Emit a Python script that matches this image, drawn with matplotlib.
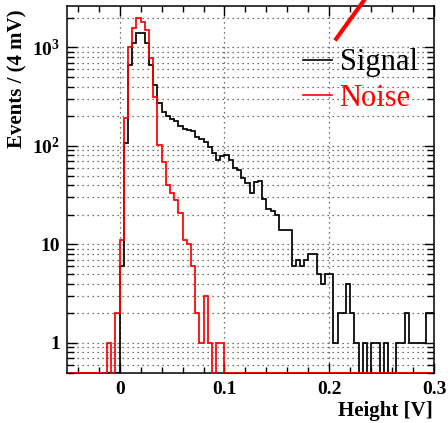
import numpy as np
import matplotlib
matplotlib.use("Agg")
import matplotlib.pyplot as plt
from matplotlib.lines import Line2D
from matplotlib.ticker import FixedLocator, FixedFormatter, LogLocator, NullFormatter

plt.rcParams["mathtext.fontset"] = "custom"
plt.rcParams["mathtext.rm"] = "Liberation Serif:bold"
plt.rcParams["mathtext.bf"] = "Liberation Serif:bold"
plt.rcParams["mathtext.it"] = "Liberation Serif:bold"

# Histogram binning: 4 mV bins
bin_width = 0.004
first_edge = -0.052
n_bins = 88

# Counts per bin, first bin starts at -0.052 V
signal_counts = [
    0, 0, 0, 0, 0, 0, 0, 0, 0, 0, 0, 0, 0,
    6, 108, 664, 1104, 1393, 1393, 1104, 664, 416, 271,
    223, 199, 187, 177, 160, 150, 146, 140, 124, 118,
    110, 98, 84, 72, 78, 81, 72, 59, 57, 47,
    42, 33, 43, 44, 29, 23, 22, 20, 14, 14,
    14, 6, 7, 6, 7, 8, 8, 5, 4, 5,
    5, 1, 2, 2, 4, 2, 1, 0, 1, 0,
    1, 1, 0, 1, 0, 0, 1, 1, 2, 1,
    1, 1, 1, 2, 2,
]
noise_counts = [
    0, 0, 0, 0, 0, 0, 0, 0, 0, 0,
    1, 0, 2,
    11, 194, 1018, 1567, 1978, 1829, 1506, 776, 316, 102,
    68, 40, 33, 28, 21, 11, 10, 6, 2, 1,
    3, 1, 0, 1, 1, 0, 0, 0, 0, 0,
    0, 0, 0, 0, 0, 0, 0, 0, 0, 0,
    0, 0, 0, 0, 0, 0, 0, 0, 0, 0,
    0, 0, 0, 0, 0, 0, 0, 0, 0, 0,
    0, 0, 0, 0, 0, 0, 0, 0, 0, 0,
    0, 0, 0, 0, 0,
]
series_labels = ["Signal", "Noise"]
series_colors = ["black", "red"]

x_range = (-0.05, 0.3)
y_range = (0.5, 2630)
x_tick_values = [0, 0.1, 0.2, 0.3]
x_tick_labels = ["0", "0.1", "0.2", "0.3"]
y_tick_values = [1, 10, 100, 1000]
y_tick_labels = ["1", "10", r"$10^{2}$", r"$10^{3}$"]

W, H = 448, 423
fig = plt.figure(figsize=(W / 100, H / 100), dpi=100)
ax = fig.add_axes([67.3 / W, 1 - 372.5 / H, (434 - 67.3) / W, (372.5 - 6) / H])

edges = first_edge + bin_width * np.arange(n_bins + 1)
for counts, color in zip([signal_counts, noise_counts], series_colors):
    vals = np.maximum(np.asarray(counts, dtype=float), y_range[0])
    ax.stairs(vals, edges, baseline=None, color=color, lw=1.25, zorder=3)

ax.set_yscale("log")
ax.set_xlim(*x_range)
ax.set_ylim(*y_range)

ax.xaxis.set_major_locator(FixedLocator(x_tick_values))
ax.xaxis.set_major_formatter(FixedFormatter(x_tick_labels))
ax.xaxis.set_minor_locator(FixedLocator(np.round(np.arange(-0.04, 0.3, 0.02), 3)))
ax.yaxis.set_major_locator(FixedLocator(y_tick_values))
ax.yaxis.set_major_formatter(FixedFormatter(y_tick_labels))
ax.yaxis.set_minor_locator(LogLocator(base=10, subs=np.arange(2, 10)))
ax.yaxis.set_minor_formatter(NullFormatter())

ax.tick_params(which="both", direction="in", top=True, right=True, width=1.0,
               labelsize=14, colors="black")
ax.tick_params(axis="x", which="major", length=7, pad=6)
ax.tick_params(axis="x", which="minor", length=4)
ax.tick_params(axis="y", which="major", length=7, pad=5)
ax.tick_params(axis="y", which="minor", length=5)
for lab in ax.get_xticklabels() + ax.get_yticklabels():
    lab.set_fontfamily("Liberation Serif")
    lab.set_fontweight("bold")

grid_style = dict(color="#444444", linestyle=(0, (1, 3)), linewidth=0.9)
ax.grid(which="major", axis="x", **grid_style)
ax.grid(which="both", axis="y", **grid_style)
ax.set_axisbelow(True)

for sp in ax.spines.values():
    sp.set_linewidth(1.1)
    sp.set_zorder(2.5)

fig.text(432.7 / W, 1 - 416 / H, "Height [V]", ha="right", va="baseline",
         fontsize=15, fontweight="bold", family="Liberation Serif")
fig.text(27 / W, 1 - 10 / H, "Events / (4 mV)", ha="right", va="top", rotation=90,
         fontsize=15, fontweight="bold", family="Liberation Serif")

# legend
for (label, color, yc, yb) in [(series_labels[0], series_colors[0], 60, 70),
                               (series_labels[1], series_colors[1], 95, 106)]:
    fig.add_artist(Line2D([303 / W, 331.5 / W], [1 - yc / H] * 2, color=color, lw=1.2))
    fig.text(339.5 / W, 1 - yb / H, label, ha="left", va="baseline", fontsize=22,
             family="Liberation Serif", color=color)

# red stroke in the upper right
fig.add_artist(Line2D([335 / W, 365 / W], [1 - 40.5 / H, 1 + 1 / H], color="red",
                      lw=3.0, solid_capstyle="butt"))

fig.savefig("out.png", dpi=100)
